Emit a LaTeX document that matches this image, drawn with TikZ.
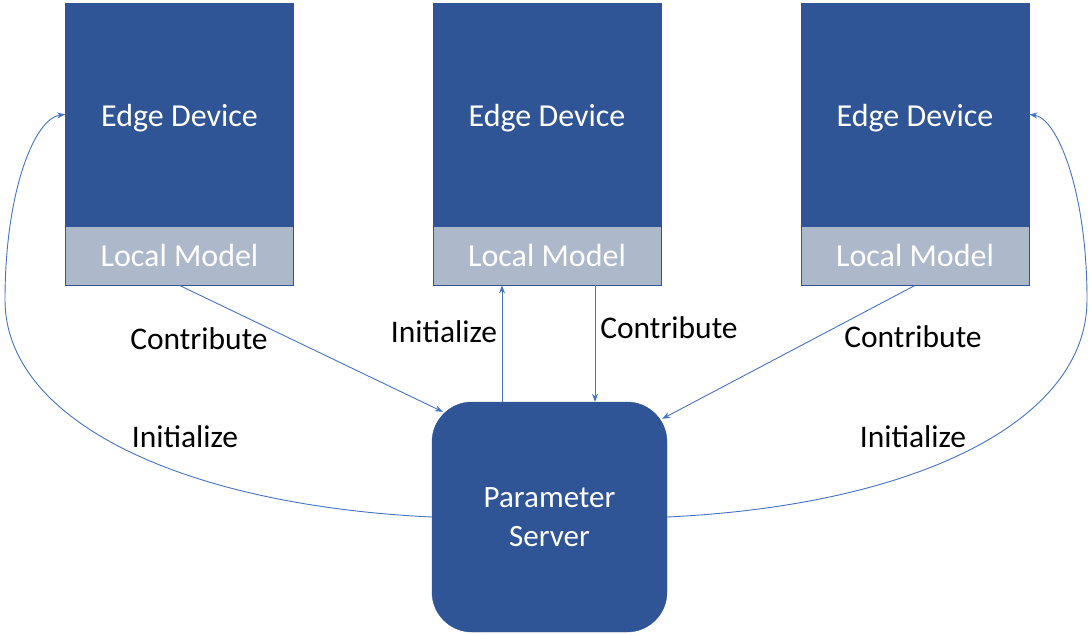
\documentclass[tikz,border=0pt]{standalone}
\usepackage{fontspec}
\setmainfont{Carlito}
\usetikzlibrary{arrows.meta,calc}
\definecolor{devblue}{HTML}{2F5597}
\definecolor{modelgrey}{HTML}{ADB9CA}
\definecolor{linkblue}{HTML}{4472C4}
\tikzset{
  device/.style={rectangle, fill=devblue, draw=devblue, line width=0.8pt,
    minimum width=228pt, minimum height=223pt, text=white, inner sep=0pt,
    text height=30pt, text depth=6.5pt,
    font=\fontsize{32}{38}\selectfont},
  model/.style={rectangle, fill=modelgrey, draw=devblue, line width=0.8pt,
    minimum width=228pt, minimum height=59pt, text=white, inner sep=0pt,
    font=\fontsize{32}{38}\selectfont},
  server/.style={rectangle, rounded corners=40pt, fill=devblue, draw=devblue,
    minimum width=235pt, minimum height=230pt, text=white, align=center,
    font=\fontsize{31}{39}\selectfont},
  link/.style={draw=linkblue, line width=0.9pt,
    -{Stealth[length=8pt,width=6pt]}},
  lbl/.style={font=\fontsize{31.5}{38}\selectfont, text=black, inner sep=0pt}
}
\begin{document}
\begin{tikzpicture}[x=1pt,y=-1pt]
\useasboundingbox (0,0) rectangle (1091,634);

% edge devices with their local models
\node[device] (ed1) at (179.5,114.5) {Edge Device};
\node[model]  (lm1) at (179.5,255.5) {Local Model};
\node[device] (ed2) at (547,114.5) {Edge Device};
\node[model]  (lm2) at (547,255.5) {Local Model};
\node[device] (ed3) at (915,114.5) {Edge Device};
\node[model]  (lm3) at (915,255.5) {Local Model};

% central server
\node[server] (ps) at (549.5,517) {Parameter\\Server};

% contributions from the local models
\draw[link] (lm1.south) -- ($(ps.north west)+(11,10)$);
\draw[link] ($(lm2.south)+(48,0)$) -- ($(ps.north)+(45.5,0)$);
\draw[link] (lm3.south) -- ($(ps.north east)+(-5,17)$);

% initialization from the server
\draw[link] ($(ps.north)+(-47.5,0)$) -- ($(lm2.south)+(-45,0)$);
\draw[link] (ps.west) .. controls (180,505) and (5,420) .. (5,300)
                      .. controls (5,190) and (35,118) .. (ed1.west);
\draw[link] (ps.east) .. controls (919,505) and (1087,420) .. (1087,300)
                      .. controls (1087,190) and (1057,118) .. (ed3.east);

% labels
\node[lbl] (c1) at (199,339) {Contribute};
\node[lbl] (i2) at (444,332) {Initialize};
\node[lbl] (c2) at (669,328) {Contribute};
\node[lbl] (c3) at (913,337) {Contribute};
\node[lbl] (i1) at (185,437) {Initialize};
\node[lbl] (i3) at (913,437) {Initialize};
\end{tikzpicture}
\end{document}
